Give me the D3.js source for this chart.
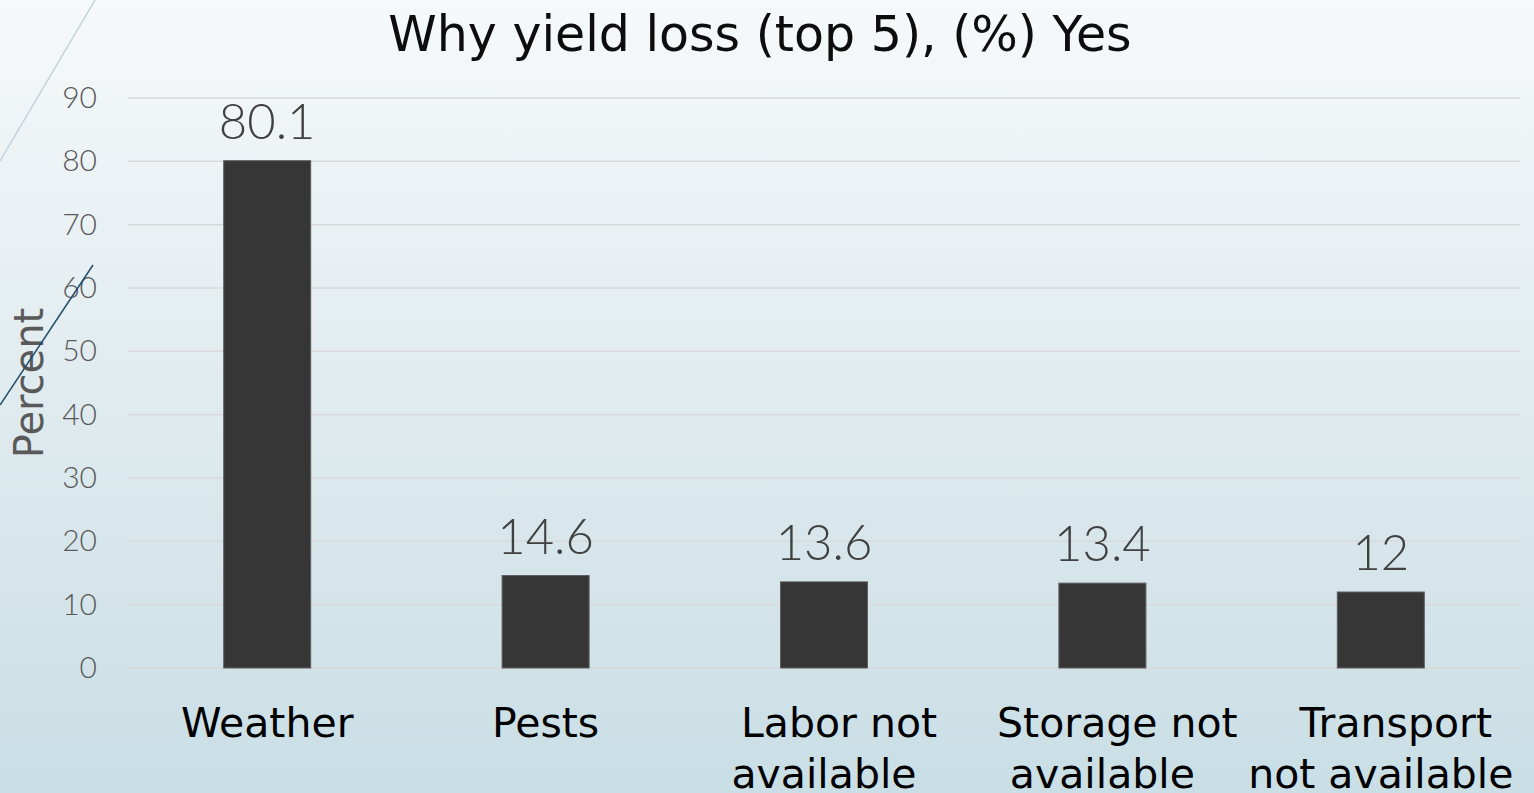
<!DOCTYPE html>
<html>
<head>
<meta charset="utf-8">
<script src="https://cdn.jsdelivr.net/npm/d3@7/dist/d3.min.js"></script>
<style>
html,body{margin:0;padding:0;overflow:hidden;}
svg{display:block;}
</style>
</head>
<body>
<svg id="chart" width="1534" height="793"></svg>
<script>
const categories = [["Weather"], ["Pests"], ["Labor not", "available"], ["Storage not", "available"], ["Transport", "not available"]];
const values = [80.1, 14.6, 13.6, 13.4, 12];
const valueLabels = ["80.1", "14.6", "13.6", "13.4", "12"];
const yTicks = [0, 10, 20, 30, 40, 50, 60, 70, 80, 90];
const titleText = "Why yield loss (top 5), (%) Yes";
const yAxisTitle = "Percent";

const W = 1534, H = 793;
const svg = d3.select("#chart");
const defs = svg.append("defs");
const grad = defs.append("linearGradient").attr("id","bg").attr("x1",0).attr("y1",0).attr("x2",0).attr("y2",1);
grad.append("stop").attr("offset","0%").attr("stop-color","#f6f9fa");
grad.append("stop").attr("offset","50%").attr("stop-color","#e0ebef");
grad.append("stop").attr("offset","100%").attr("stop-color","#c9dee5");
svg.append("rect").attr("width",W).attr("height",H).attr("fill","url(#bg)");

const plot = {left:128, right:1520, top:98, bottom:668};
const x = d3.scaleBand().domain(d3.range(values.length)).range([plot.left, plot.right]).paddingInner(0.6875).paddingOuter(0.34375);
const y = d3.scaleLinear().domain([0, 90]).range([plot.bottom, plot.top]);

const textFont = "'DejaVu Sans', sans-serif";
const numFont = "Lato, sans-serif";

// gridlines
svg.append("g").selectAll("line").data(yTicks).join("line")
  .attr("x1", plot.left).attr("x2", plot.right)
  .attr("y1", d => y(d)).attr("y2", d => y(d))
  .attr("stroke", "#d9d9d9").attr("stroke-width", 1.5);

// y axis labels
const yAxis = d3.axisLeft(y).tickValues(yTicks).tickSize(0).tickPadding(0);
const ya = svg.append("g").attr("transform", `translate(${97},0)`).call(yAxis);
ya.select(".domain").remove();
ya.selectAll("text").attr("font-family", numFont).attr("font-size", 30).attr("font-weight", 300).attr("fill", "#595959");

// bars
svg.append("g").selectAll("rect").data(values).join("rect")
  .attr("x", (d,i) => x(i)).attr("width", x.bandwidth())
  .attr("y", d => y(d)).attr("height", d => y(0) - y(d))
  .attr("fill", "#363636").attr("stroke", "#5e5e5e").attr("stroke-width", 1);

// data labels
svg.append("g").selectAll("text").data(values).join("text")
  .attr("x", (d,i) => x(i) + x.bandwidth()/2).attr("y", d => y(d) - 22)
  .attr("text-anchor", "middle").attr("font-family", numFont).attr("font-size", 49).attr("font-weight", 300)
  .attr("fill", "#404040").text((d,i) => valueLabels[i]);

// category labels
const cat = svg.append("g").selectAll("text").data(categories).join("text")
  .attr("text-anchor", "middle").attr("font-family", textFont).attr("font-size", 41).attr("fill", "#000");
cat.each(function(lines, i) {
  const t = d3.select(this);
  const cx = x(i) + x.bandwidth()/2;
  lines.forEach((ln, j) => {
    t.append("tspan").attr("x", cx + (lines.length > 1 && j === 0 ? 15 : 0))
      .attr("y", 737 + j * 51).text(ln);
  });
});

// title
svg.append("text").attr("x", 760).attr("y", 51).attr("text-anchor","middle")
  .attr("font-family", textFont).attr("font-size", 49).attr("fill", "#0d0d0d").text(titleText);

// y axis title
svg.append("text").attr("transform", `translate(43,${(plot.top+plot.bottom)/2}) rotate(-90)`)
  .attr("text-anchor","middle").attr("font-family", textFont).attr("font-size", 40)
  .attr("fill", "#595959").text(yAxisTitle);

// decorative lines
svg.append("line").attr("x1",0).attr("y1",161).attr("x2",95).attr("y2",0)
  .attr("stroke","#c6d4db").attr("stroke-width",1.5);
svg.append("line").attr("x1",0).attr("y1",405).attr("x2",93).attr("y2",265)
  .attr("stroke","#1f4d6b").attr("stroke-width",1.5);
</script>
</body>
</html>
